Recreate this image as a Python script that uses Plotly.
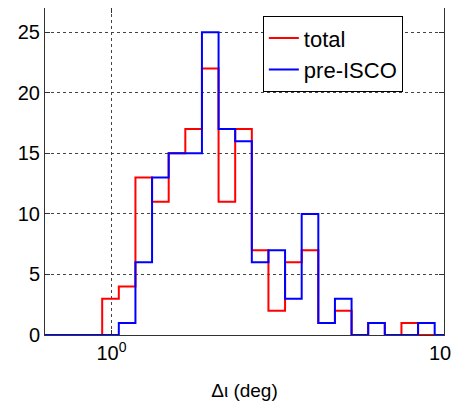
import plotly.graph_objects as go

# Histogram bin edges (log10 of Δι in degrees)
bin_edges_log10 = [-0.028, 0.022, 0.072, 0.122, 0.172, 0.222, 0.272, 0.322, 0.372, 0.422,
                   0.472, 0.522, 0.572, 0.622, 0.672, 0.722, 0.772, 0.822, 0.872, 0.922,
                   0.972, 1.022]
# counts per bin
total_counts = [3, 4, 13, 11, 15, 17, 22, 11, 17, 7, 2, 6, 7, 1, 2, 0, 1, 0, 1, 0, 0]
preisco_counts = [0, 1, 6, 13, 15, 15, 25, 17, 16, 6, 7, 3, 10, 1, 3, 0, 1, 0, 0, 1, 0]

x_range_log10 = [-0.2, 1.0]
y_range = [0, 27]
x_tick_vals = [1, 10]
x_tick_text = ["10<sup>0</sup>", "10<sup>1</sup>"]
y_tick_vals = [0, 5, 10, 15, 20, 25]

FONT = "Liberation Sans, Arial, sans-serif"

edges = [10 ** e for e in bin_edges_log10]
x_start = 10 ** x_range_log10[0]


def step_xy(counts):
    xs = [x_start] + edges
    ys = [0] + list(counts) + [0]
    return xs, ys


fig = go.Figure()
for name, counts, color in [("total", total_counts, "#ff0000"),
                            ("pre-ISCO", preisco_counts, "#0000ff")]:
    xs, ys = step_xy(counts)
    fig.add_trace(go.Scatter(x=xs, y=ys, mode="lines", name=name,
                             line=dict(color=color, width=2, shape="hv")))

axis_common = dict(showline=True, linecolor="#333333", linewidth=1, mirror="ticks",
                   ticks="inside", ticklen=5, tickcolor="#333333",
                   showgrid=True, gridcolor="#444444", gridwidth=1,
                   griddash="3px,3px", zeroline=False, layer="below traces",
                   tickfont=dict(family=FONT, size=20, color="black"))

fig.update_xaxes(type="log", range=x_range_log10, tickvals=x_tick_vals,
                 ticktext=x_tick_text,
                 title=dict(text="Δι (deg)", font=dict(family=FONT, size=19, color="black"),
                            standoff=20),
                 **axis_common)
fig.update_yaxes(range=y_range, tickvals=y_tick_vals, **axis_common)

# The page body has an 8px default margin; size the figure so it fits the window.
fig.update_layout(
    width=452, height=396,
    margin=dict(l=37, r=16, t=0, b=69, autoexpand=False),
    plot_bgcolor="white", paper_bgcolor="white",
    font=dict(family=FONT, color="black"),
    legend=dict(x=0.546, y=0.975, xanchor="left", yanchor="top",
                bgcolor="white", bordercolor="black", borderwidth=1,
                font=dict(family=FONT, size=22, color="black"),
                tracegroupgap=0),
)

fig.write_html("out.html")
